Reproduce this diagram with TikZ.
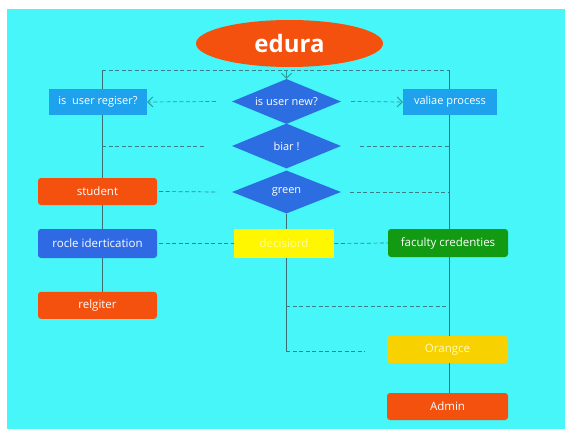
\documentclass[tikz,border=0pt]{standalone}
\usepackage{fontspec}
\setmainfont{Open Sans}
\usetikzlibrary{shapes.geometric,arrows.meta,backgrounds}
\definecolor{bgcyan}{HTML}{46F6F8}
\definecolor{orred}{HTML}{F4500E}
\definecolor{skyb}{HTML}{1EA2EE}
\definecolor{diab}{HTML}{2C6EE2}
\definecolor{rblue}{HTML}{2F6AE4}
\definecolor{yel}{HTML}{FFF700}
\definecolor{gold}{HTML}{F8D200}
\definecolor{fgreen}{HTML}{129A12}
\definecolor{linec}{HTML}{3A6E76}
\definecolor{dashc}{HTML}{3A8088}
\definecolor{tipc}{HTML}{2A9A98}
\tikzset{
  box/.style={draw=none, text=white, inner sep=0pt, font=\fontsize{11.5}{13}\selectfont},
  rbox/.style={box, rounded corners=3pt},
  dia/.style={diamond, shape aspect=2.5, fill=diab, text=white, inner sep=0pt, minimum width=109pt, minimum height=45pt, font=\fontsize{11}{13}\selectfont},
  solidl/.style={draw=linec, line width=0.8pt},
  dashl/.style={draw=dashc, line width=0.7pt, dash pattern=on 4pt off 2.5pt},
  tipl/.style={-{Straight Barb[length=5pt,width=10pt,line width=0.9pt]}, draw=tipc}
}
\begin{document}
\begin{tikzpicture}[x=1pt,y=-1pt]
\useasboundingbox (0,0) rectangle (565,431);
% nodes
\node[ellipse, fill=orred, text=white, minimum width=187pt, minimum height=47pt, inner sep=0pt, font=\fontsize{24}{28}\selectfont\bfseries] (edura) at (289.5,43.5) {edura};
\node[dia] (isnew) at (286.5,101.5) {is user new?};
\node[dia] (biar) at (286.5,146) {biar !};
\node[dia, minimum height=43pt] (green) at (286.5,192) {green};
\node[box, fill=skyb, minimum width=98pt, minimum height=26pt, font=\fontsize{11}{13}\selectfont] (regiser) at (98,102) {is\ \ user regiser?};
\node[box, fill=skyb, minimum width=94pt, minimum height=26pt, font=\fontsize{11}{13}\selectfont] (valiae) at (450,102) {valiae process};
\node[rbox, fill=orred, minimum width=119pt, minimum height=27pt] (student) at (97.5,191.5) {student};
\node[rbox, fill=rblue, minimum width=119pt, minimum height=29pt] (rocle) at (97.5,243.5) {rocle idertication};
\node[box, fill=yel, text=yellow!35!white, minimum width=100.5pt, minimum height=29pt] (dec) at (284,243.5) {decisiord};
\node[rbox, fill=fgreen, minimum width=120pt, minimum height=28pt] (faculty) at (448,243) {faculty credenties};
\node[rbox, fill=orred, minimum width=119pt, minimum height=27pt] (relgiter) at (97.5,305.3) {relgiter};
\node[rbox, fill=gold, text=yellow!25!white, minimum width=121pt, minimum height=27pt] (orangce) at (447.5,349.5) {Orangce};
\node[rbox, fill=orred, minimum width=121pt, minimum height=27pt] (admin) at (447.5,406.5) {Admin};
\coordinate (tl) at (102,70);
\coordinate (tr) at (449,70);
\coordinate (mid) at (286,306);
\coordinate (cb) at (286,351);
\begin{scope}[on background layer]
\fill[white] (0,0) rectangle (565,431);
\fill[bgcyan] (7,9) rectangle (565,429);
% solid verticals
\draw[solidl] (tl) -- (tl |- relgiter.north);
\draw[solidl] (tr) -- (tr |- admin.north);
\draw[solidl] (green.south -| mid) -- (dec.north -| mid);
\draw[solidl] (dec.south -| mid) -- (cb);
% dashed lines
\draw[dashl] (tl) -- (tr);
\draw[solidl, tipl] (tl -| isnew.north) -- (isnew.north);
\draw[dashl, tipl] ([xshift=-16pt]isnew.west) -- (regiser.east);
\draw[dashl, tipl] ([xshift=10pt]isnew.east) -- (valiae.west);
\draw[dashl] (tl |- biar.west) -- ([xshift=-27pt]biar.west);
\draw[dashl] ([xshift=19pt]biar.east) -- (tr |- biar.east);
\draw[dashl] ([xshift=2pt]student.east) -- ([xshift=-14pt]green.west);
\draw[dashl] ([xshift=9pt]green.east) -- (tr |- green.east);
\draw[dashl] ([xshift=2pt]rocle.east) -- (dec.west);
\draw[dashl] (dec.east) -- (faculty.west);
\draw[dashl] (mid) -- (tr |- mid);
\draw[dashl] (cb) -- ([xshift=-22pt]orangce.west |- cb);
\end{scope}
\end{tikzpicture}
\end{document}
